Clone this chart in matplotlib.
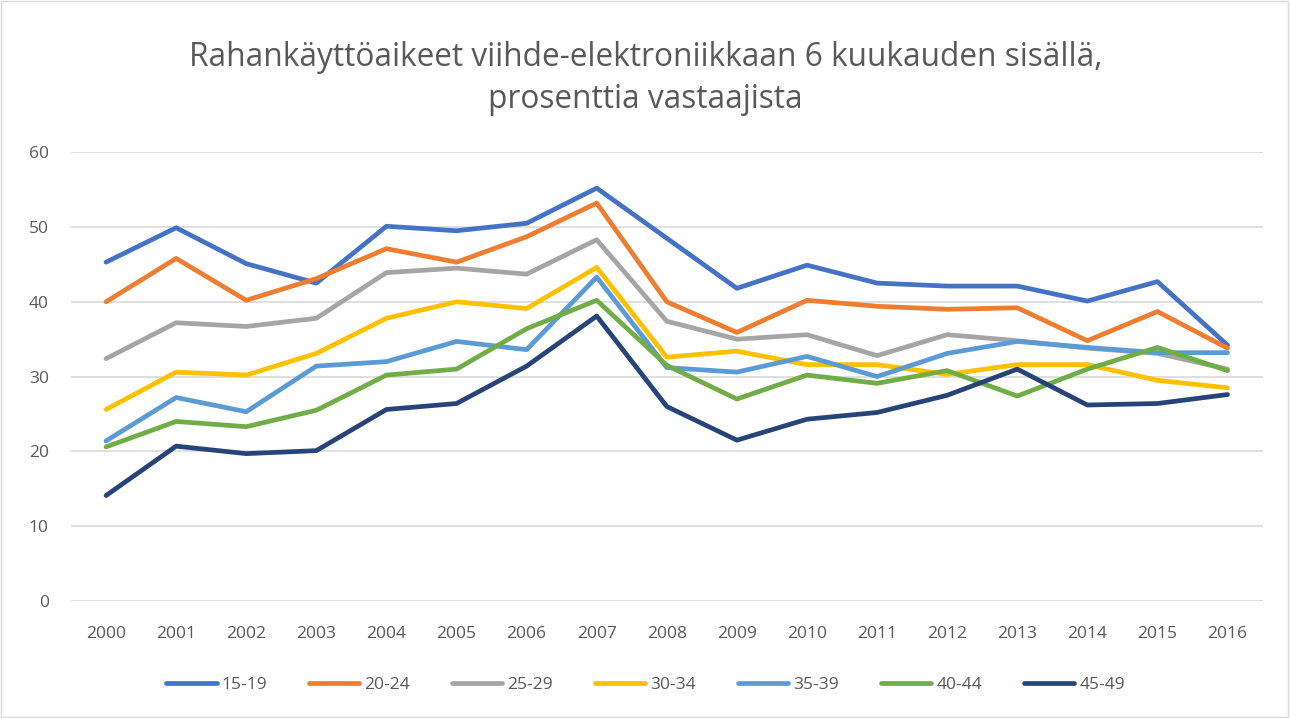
import matplotlib
matplotlib.use("Agg")
import matplotlib.pyplot as plt
from matplotlib.patches import Rectangle

plt.rcParams['font.family'] = ['Open Sans', 'DejaVu Sans']

years = [str(y) for y in range(2000, 2017)]
groups = ["15-19", "20-24", "25-29", "30-34", "35-39", "40-44", "45-49"]

v_15_19 = [45.3, 49.9, 45.1, 42.5, 50.1, 49.5, 50.5, 55.2, 48.5, 41.8, 44.9, 42.5, 42.1, 42.1, 40.1, 42.7, 34.2]
v_20_24 = [40.0, 45.8, 40.2, 43.1, 47.1, 45.3, 48.7, 53.2, 40.0, 35.9, 40.2, 39.4, 39.0, 39.2, 34.8, 38.7, 33.8]
v_25_29 = [32.4, 37.2, 36.7, 37.8, 43.9, 44.5, 43.7, 48.3, 37.4, 35.0, 35.6, 32.8, 35.6, 34.8, 33.8, 33.1, 31.0]
v_30_34 = [25.6, 30.6, 30.2, 33.1, 37.8, 40.0, 39.1, 44.6, 32.6, 33.4, 31.6, 31.6, 30.3, 31.6, 31.6, 29.5, 28.5]
v_35_39 = [21.4, 27.2, 25.3, 31.4, 32.0, 34.7, 33.6, 43.3, 31.2, 30.6, 32.7, 30.0, 33.1, 34.7, 33.9, 33.2, 33.2]
v_40_44 = [20.6, 24.0, 23.3, 25.5, 30.2, 31.0, 36.4, 40.2, 31.5, 27.0, 30.2, 29.1, 30.8, 27.4, 31.0, 33.9, 30.8]
v_45_49 = [14.1, 20.7, 19.7, 20.1, 25.6, 26.4, 31.4, 38.1, 26.0, 21.5, 24.3, 25.2, 27.5, 31.0, 26.2, 26.4, 27.6]

series = [v_15_19, v_20_24, v_25_29, v_30_34, v_35_39, v_40_44, v_45_49]
colors = ["#4472C4", "#ED7D31", "#A5A5A5", "#FFC000", "#5B9BD5", "#70AD47", "#264478"]

text_col = "#595959"

fig = plt.figure(figsize=(12.91, 7.18), dpi=100)
ax = fig.add_axes([0.055, 0.163, 0.923, 0.625])

x = list(range(len(years)))
for vals, name, c in zip(series, groups, colors):
    ax.plot(x, vals, color=c, lw=3.4, label=name, solid_capstyle="round", solid_joinstyle="round")

ax.set_xlim(-0.5, len(years) - 0.5)
ax.set_ylim(0, 60)
ax.set_yticks(range(0, 61, 10))
ax.set_xticks(x)
ax.set_xticklabels(years)
ax.grid(axis="y", color="#D9D9D9", lw=1.2)
ax.set_axisbelow(True)
for s in ax.spines.values():
    s.set_visible(False)
ax.tick_params(length=0, labelsize=12.5, colors=text_col)
ax.tick_params(axis="y", pad=16)
ax.tick_params(axis="x", pad=18)

fig.text(0.5, 0.891, "Rahankäyttöaikeet viihde-elektroniikkaan 6 kuukauden sisällä,\nprosenttia vastaajista",
         ha="center", va="center", fontsize=22.8, color=text_col, linespacing=1.36)

fig.legend(loc="center", bbox_to_anchor=(0.5, 0.046), ncol=7, frameon=False,
           fontsize=12.5, labelcolor=text_col, handlelength=2.9, handletextpad=0.3,
           columnspacing=2.4)

fig.patches.append(Rectangle((0.001, 0.001), 0.997, 0.997, transform=fig.transFigure,
                             fill=False, edgecolor="#D9D9D9", lw=1))

fig.savefig("out.png", dpi=100)
